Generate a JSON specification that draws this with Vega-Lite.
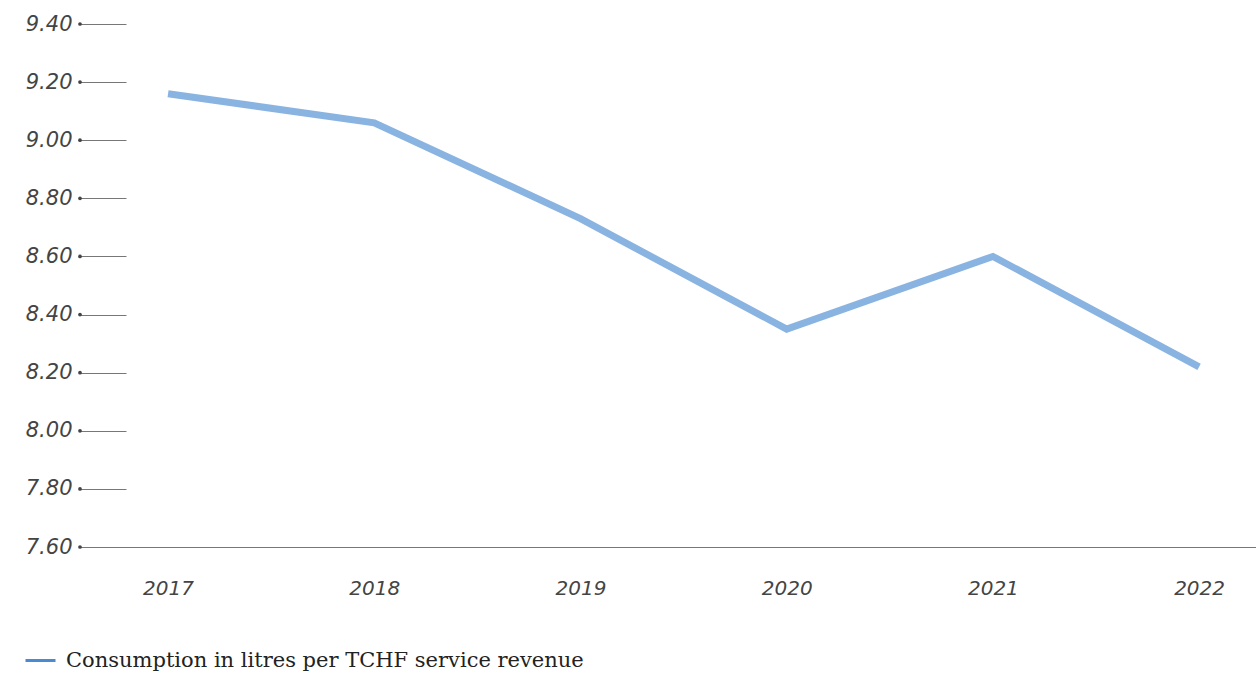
{
  "$schema": "https://vega.github.io/schema/vega-lite/v6.json",
  "width": 1176,
  "height": 523,
  "autosize": "none",
  "padding": {"left": 80, "top": 24, "right": 0, "bottom": 128},
  "background": "white",
  "config": {"view": {"stroke": null}},
  "datasets": {
    "main": [
      {"year": 2017, "value": 9.16, "series": "Consumption in litres per TCHF service revenue"},
      {"year": 2018, "value": 9.06, "series": "Consumption in litres per TCHF service revenue"},
      {"year": 2019, "value": 8.73, "series": "Consumption in litres per TCHF service revenue"},
      {"year": 2020, "value": 8.35, "series": "Consumption in litres per TCHF service revenue"},
      {"year": 2021, "value": 8.60, "series": "Consumption in litres per TCHF service revenue"},
      {"year": 2022, "value": 8.22, "series": "Consumption in litres per TCHF service revenue"}
    ],
    "ticks": [
      {"v": 7.6}, {"v": 7.8}, {"v": 8.0}, {"v": 8.2}, {"v": 8.4},
      {"v": 8.6}, {"v": 8.8}, {"v": 9.0}, {"v": 9.2}, {"v": 9.4}
    ]
  },
  "layer": [
    {
      "data": {"name": "main"},
      "mark": {"type": "line", "strokeWidth": 7, "opacity": 0.65, "strokeCap": "butt", "strokeJoin": "miter"},
      "encoding": {
        "x": {
          "field": "year", "type": "quantitative",
          "scale": {"domain": [2016.573, 2022.276], "nice": false, "zero": false},
          "axis": {
            "values": [2017, 2018, 2019, 2020, 2021, 2022],
            "format": "d",
            "title": null,
            "grid": false,
            "ticks": false,
            "domain": true,
            "domainColor": "#777777",
            "domainWidth": 1,
            "labelFont": "DejaVu Sans",
            "labelFontStyle": "italic",
            "labelFontSize": 20,
            "labelColor": "#444444",
            "labelPadding": 31
          }
        },
        "y": {
          "field": "value", "type": "quantitative",
          "scale": {"domain": [7.6, 9.4], "nice": false, "zero": false},
          "axis": {
            "values": [7.6, 7.8, 8.0, 8.2, 8.4, 8.6, 8.8, 9.0, 9.2, 9.4],
            "format": ".2f",
            "title": null,
            "grid": false,
            "domain": false,
            "ticks": true,
            "tickSize": -46,
            "tickColor": "#777777",
            "tickWidth": 1,
            "labelFont": "DejaVu Sans",
            "labelFontStyle": "italic",
            "labelFontSize": 21,
            "labelColor": "#444444",
            "labelPadding": 54
          }
        },
        "color": {
          "field": "series", "type": "nominal",
          "scale": {"range": ["#4a8ad0"]},
          "legend": {
            "title": null,
            "orient": "none",
            "legendX": -56,
            "legendY": 620,
            "symbolType": "stroke",
            "symbolStrokeWidth": 3,
            "symbolSize": 900,
            "symbolOpacity": 1,
            "labelOffset": 9,
            "labelFont": "DejaVu Serif",
            "labelFontSize": 21,
            "labelColor": "#222222",
            "labelLimit": 800
          }
        }
      }
    },
    {
      "data": {"name": "ticks"},
      "mark": {"type": "circle", "size": 14, "color": "#444444", "opacity": 1},
      "encoding": {
        "x": {"datum": 2016.573, "type": "quantitative"},
        "y": {"field": "v", "type": "quantitative"}
      }
    }
  ]
}
